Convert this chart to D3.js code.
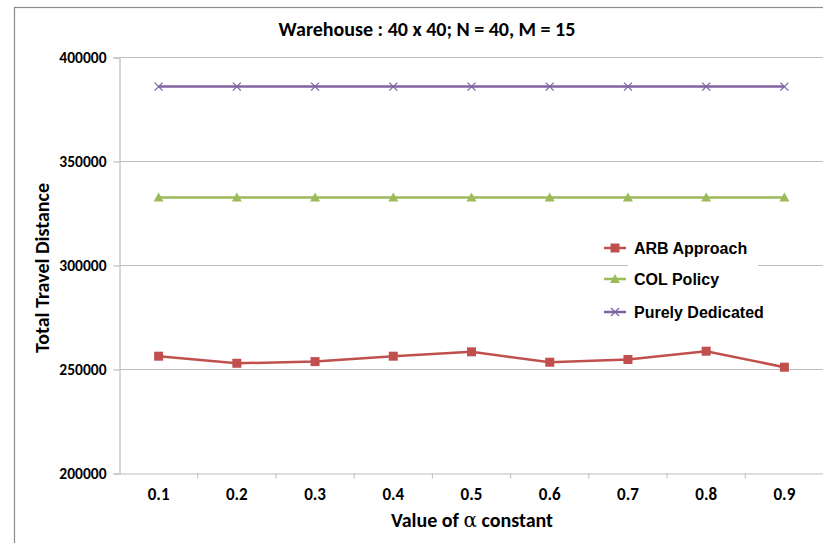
<!DOCTYPE html>
<html>
<head>
  <meta charset="UTF-8">
  <title>Warehouse chart</title>
  <script src="https://d3js.org/d3.v7.min.js"></script>
  <style>
    body { margin: 0; background: #fff; }
    .calibri { font-family: Carlito, "Liberation Sans Narrow", "Open Sans", sans-serif; font-weight: bold; }
    .legend text { font-family: "Liberation Sans", Arial, sans-serif; font-weight: bold; font-size: 16px; }
  </style>
</head>
<body>
  <svg width="823" height="543"></svg>
  <script>
    const alphas = ["0.1", "0.2", "0.3", "0.4", "0.5", "0.6", "0.7", "0.8", "0.9"];
    const arb = [256400, 253000, 253800, 256400, 258500, 253500, 254800, 258800, 251100];
    const col = [332700, 332700, 332700, 332700, 332700, 332700, 332700, 332700, 332700];
    const dedicated = [386000, 386000, 386000, 386000, 386000, 386000, 386000, 386000, 386000];
    const yTicks = [200000, 250000, 300000, 350000, 400000];

    const series = [
      { name: "ARB Approach", values: arb, color: "#C0504D", marker: "square" },
      { name: "COL Policy", values: col, color: "#9BBB59", marker: "triangle" },
      { name: "Purely Dedicated", values: dedicated, color: "#8064A2", marker: "cross" }
    ];

    const svg = d3.select("svg");
    const W = 823;

    // outer frame
    svg.append("rect").attr("x", 14.5).attr("y", 7.5).attr("width", 830).attr("height", 560)
      .attr("fill", "none").attr("stroke", "#8c8c8c").attr("stroke-width", 1.2);

    const x = d3.scaleBand().domain(alphas).range([119.5, 823.5]);
    const y = d3.scaleLinear().domain([200000, 400000]).range([473.5, 57.5]);

    // gridlines
    svg.append("g").selectAll("line").data(yTicks.slice(1)).join("line")
      .attr("x1", 119.5).attr("x2", W).attr("y1", d => y(d)).attr("y2", d => y(d))
      .attr("stroke", "#bdbdbd").attr("stroke-width", 1.2);

    const yAxis = svg.append("g").attr("transform", "translate(119.5,0)")
      .call(d3.axisLeft(y).tickValues(yTicks).tickSize(6).tickPadding(7).tickFormat(d3.format("d")));
    const xAxis = svg.append("g").attr("transform", "translate(0,473.5)")
      .call(d3.axisBottom(x).tickSize(0).tickPadding(14));
    // band boundary ticks
    xAxis.append("g").selectAll("line").data(alphas.slice(1)).join("line")
      .attr("x1", d => x(d)).attr("x2", d => x(d)).attr("y1", 0).attr("y2", 5)
      .attr("stroke", "#bdbdbd");

    [yAxis, xAxis].forEach(g => {
      g.selectAll(".domain, .tick line").attr("stroke", "#bdbdbd").attr("stroke-width", 1.2);
      g.selectAll("text").attr("class", "calibri").attr("font-size", 15.5).attr("fill", "#000");
    });
    xAxis.selectAll(".tick text").attr("font-size", 17);

    const cx = d => x(d) + x.bandwidth() / 2;
    const line = d3.line().x((d, i) => cx(alphas[i])).y(d => y(d));

    function marker(g, type, color) {
      if (type === "square") {
        g.append("rect").attr("x", -4.5).attr("y", -4.5).attr("width", 9).attr("height", 9).attr("fill", color);
      } else if (type === "triangle") {
        g.append("path").attr("d", "M0,-5L5,4L-5,4Z").attr("fill", color);
      } else {
        g.append("path").attr("d", "M-4,-4L4,4M-4,4L4,-4").attr("stroke", color).attr("stroke-width", 1.3).attr("fill", "none");
      }
    }

    series.slice().reverse().forEach(s => {
      svg.append("path").datum(s.values).attr("d", line)
        .attr("fill", "none").attr("stroke", s.color).attr("stroke-width", 2.5);
      s.values.forEach((v, i) => {
        const g = svg.append("g").attr("transform", `translate(${cx(alphas[i])},${y(v)})`);
        marker(g, s.marker, s.color);
      });
    });

    // legend
    const legend = svg.append("g").attr("class", "legend");
    legend.append("rect").attr("x", 628).attr("y", 236).attr("width", 130).attr("height", 88).attr("fill", "#fff");
    const rows = [248, 279, 312];
    series.forEach((s, i) => {
      const g = legend.append("g").attr("transform", `translate(0,${rows[i]})`);
      g.append("line").attr("x1", 604).attr("x2", 626).attr("y1", 0).attr("y2", 0)
        .attr("stroke", s.color).attr("stroke-width", 2.5);
      const m = g.append("g").attr("transform", "translate(615,0)");
      marker(m, s.marker, s.color);
      g.append("text").attr("x", 634).attr("y", 6).text(s.name);
    });

    // titles
    svg.append("text").attr("class", "calibri").attr("x", 427).attr("y", 36)
      .attr("text-anchor", "middle").attr("font-size", 20).text("Warehouse : 40 x 40; N = 40, M = 15");
    svg.append("text").attr("class", "calibri").attr("x", 472).attr("y", 527)
      .attr("text-anchor", "middle").attr("font-size", 20)
      .html('Value of <tspan font-family="DejaVu Serif" font-weight="normal">α</tspan> constant');
    svg.append("text").attr("class", "calibri").attr("transform", "translate(49,268) rotate(-90)")
      .attr("text-anchor", "middle").attr("font-size", 20).text("Total Travel Distance");
  </script>
</body>
</html>
